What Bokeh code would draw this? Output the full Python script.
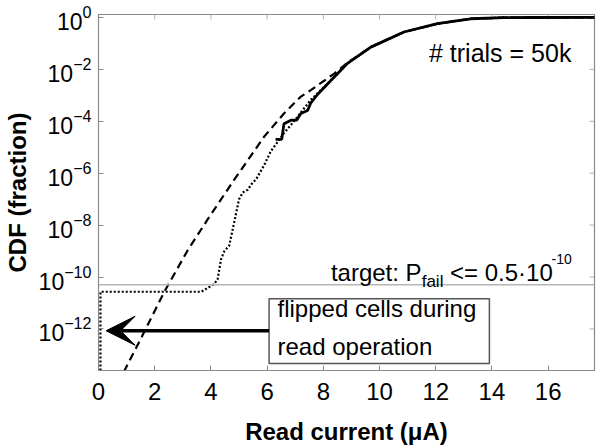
from bokeh.plotting import figure
from bokeh.models import (Range1d, FixedTicker, Span, BoxAnnotation, Label, Arrow,
                          VeeHead, LogTickFormatter)
from bokeh.embed import file_html
from bokeh.resources import INLINE

# ---------------- data ----------------
x_ticks = [0, 2, 4, 6, 8, 10, 12, 14, 16]
y_ticks = [1e-12, 1e-10, 1e-8, 1e-6, 1e-4, 1e-2, 1.0]

# Gaussian fit (dashed)
fit_x = [0.90, 1.52, 2.35, 3.18, 3.89, 4.83, 5.90, 6.60, 7.20, 7.44, 8.39, 8.86,
         9.69, 10.87, 12.06, 13.24, 14.42, 16.0, 17.65]
fit_cdf = [2.2e-14, 4.5e-13, 2.8e-11, 1.1e-9, 1.7e-8, 5.6e-7, 2.6e-5, 2.0e-4, 8.9e-4,
           1.3e-3, 6.9e-3, 1.8e-2, 7.2e-2, 0.275, 0.575, 0.89, 0.985, 1.0, 1.0]

# Monte Carlo, 50k trials (solid)
mc_x = [6.30, 6.52, 6.60, 6.85, 7.05, 7.20, 7.44, 7.55, 7.80, 8.39, 8.86, 9.69,
        10.87, 12.06, 13.24, 14.42, 15.5, 17.65]
mc_cdf = [2.0e-5, 2.0e-5, 8.0e-5, 1.1e-4, 1.1e-4, 2.0e-4, 2.6e-4, 5.0e-4, 1.1e-3,
          5.1e-3, 1.7e-2, 7.2e-2, 0.275, 0.575, 0.89, 0.985, 0.998, 1.0]

# statistical estimate incl. flipped cells (dotted)
est_x = [0.07, 0.07, 3.65, 3.89, 4.12, 4.24, 4.30, 4.36, 4.48, 4.65, 4.83, 5.00, 5.13,
         5.31, 5.48, 5.60, 5.90, 6.13, 6.60, 6.85, 7.55, 8.39, 8.86, 9.69, 10.87,
         12.06, 13.24, 14.42, 15.5, 17.65]
est_cdf = [2.5e-14, 2.7e-11, 2.7e-11, 3.8e-11, 5.4e-11, 8.3e-11, 2.0e-10, 4.9e-10,
           1.0e-9, 1.6e-9, 1.3e-8, 9.8e-8, 1.8e-7, 2.3e-7, 4.3e-7, 5.6e-7, 2.1e-6,
           6.9e-6, 3.5e-5, 7.2e-5, 6.6e-4, 5.1e-3, 1.7e-2, 7.2e-2, 0.275, 0.575,
           0.89, 0.985, 0.998, 1.0]

target_pfail = 0.5e-10

X_MIN, X_MAX = 0.0, 17.65
Y_MIN, Y_MAX = 2.5e-14, 1.30

FONT = "Liberation Sans"
GRAY = "#8a8a8a"

p = figure(width=598, height=447, x_range=Range1d(X_MIN, X_MAX),
           y_range=Range1d(Y_MIN, Y_MAX), y_axis_type="log",
           output_backend="svg", toolbar_location=None,
           min_border_left=97, min_border_right=4, min_border_top=14,
           min_border_bottom=75)

p.xgrid.visible = False
p.ygrid.visible = False
p.outline_line_color = GRAY
p.outline_line_width = 1.2
p.background_fill_color = "white"
p.border_fill_color = "white"

xa = p.xaxis[0]
xa.ticker = FixedTicker(ticks=x_ticks)
xa.axis_label = "Read current (μA)"
ya = p.yaxis[0]
ya.ticker = FixedTicker(ticks=y_ticks)
ya.formatter = LogTickFormatter()
ya.axis_label = "CDF (fraction)"

for ax in (xa, ya):
    ax.axis_line_color = GRAY
    ax.major_tick_line_color = GRAY
    ax.major_tick_in = 5
    ax.major_tick_out = 0
    ax.minor_tick_line_color = None
    ax.major_label_text_font = FONT
    ax.major_label_text_color = "black"
    ax.axis_label_text_font = FONT
    ax.axis_label_text_font_size = "24px"
    ax.axis_label_text_font_style = "bold"
    ax.axis_label_text_color = "black"
xa.major_label_text_font_size = "24px"
ya.major_label_text_font_size = "23px"
xa.major_label_standoff = 12
xa.axis_label_standoff = 15
ya.major_label_standoff = 7
ya.axis_label_standoff = 5

# mirrored inward ticks on top and right (from the tick arrays)
top_len = 10 ** (-5 / 26.1)
p.segment(x0=x_ticks, y0=[Y_MAX] * len(x_ticks), x1=x_ticks,
          y1=[Y_MAX * top_len] * len(x_ticks), line_color="#b0b0b0", line_width=1)
right_len = 5 / 28.15
p.segment(x0=[X_MAX] * len(y_ticks), y0=y_ticks, x1=[X_MAX - right_len] * len(y_ticks),
          y1=y_ticks, line_color="#b0b0b0", line_width=1)

# target line
p.add_layout(Span(location=target_pfail, dimension="width",
                  line_color="#b5b5b5", line_width=1.5))

# curves
p.line(fit_x, fit_cdf, line_color="black", line_width=2.2, line_dash="8 5")
p.line(est_x, est_cdf, line_color="black", line_width=2.2, line_dash="2 2")
p.line(mc_x, mc_cdf, line_color="black", line_width=2.8)

# annotation box + arrow
p.add_layout(BoxAnnotation(left=6.07, right=13.91, top=1.44e-11, bottom=4.7e-14,
                           fill_color="white", fill_alpha=1.0,
                           line_color="#555555", line_width=1.5, line_alpha=1.0))
p.add_layout(Arrow(end=VeeHead(size=29, fill_color="black", line_color="black"),
                   x_start=6.07, y_start=8.5e-13, x_end=0.27, y_end=8.5e-13,
                   line_width=3.5, line_color="black"))

def lab(x, y, text, size="24px", baseline="middle"):
    p.add_layout(Label(x=x, y=y, text=text, text_font=FONT, text_font_size=size,
                       text_color="black", text_baseline=baseline, text_align="left"))

lab(6.37, 5.9e-12, "flipped cells during")
lab(6.37, 2.1e-13, "read operation")
lab(11.76, 0.044, "# trials = 50k", size="25px")

lab(8.27, 1.55e-10, "target: P", baseline="alphabetic")
lab(11.50, 6.5e-11, "fail", size="17px", baseline="alphabetic")
lab(12.51, 1.55e-10, "<= 0.5·10", baseline="alphabetic")
lab(16.12, 4.9e-10, "-10", size="14px", baseline="alphabetic")

open("out.html", "w").write(file_html(p, INLINE))
